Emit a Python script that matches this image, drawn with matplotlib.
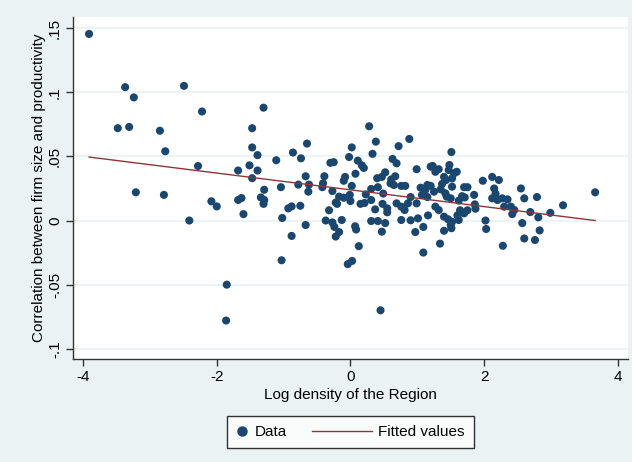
import matplotlib
matplotlib.use("Agg")
import matplotlib.pyplot as plt
from matplotlib.lines import Line2D
from matplotlib.legend_handler import HandlerLine2D

plt.rcParams['font.family'] = ['Liberation Sans', 'DejaVu Sans']

# log density (x) and size-productivity correlation (y)
log_density = [
    -3.91, -3.37, -3.24, -3.48, -3.31, -3.21, -2.85, -2.77, -2.79, -2.49,
    -2.22, -2.28, -2.41, -2.08, -2.00, -1.85, -1.86, -1.68, -1.51, -1.47,
    -1.47, -1.39, -1.47, -1.39, -1.68, -1.63, -1.60, -1.34, -1.30, -1.29,
    -1.29, -1.30, -1.11, -1.04, -1.03, -1.02, -0.93, -0.88, -0.75, -0.88,
    -0.67, -0.86, -0.74, -0.65, -0.67, -0.78, -0.62, -0.63, -0.39, -0.41,
    -0.42, -0.30, -0.25, -0.27, -0.22, -0.32, -0.37, -0.27, -0.24, -0.22,
    -0.17, -0.13, 0.07, 0.085, 0.125, -0.04, 0.025, 0.45,
    0.28, 0.38, 0.88, 0.72, 0.02, 0.33, -0.02, 0.11, 0.17, 0.20,
    0.63, 0.69, 0.99, -0.08, -0.10, 0.075, 0.02, 0.40, 0.47, 0.52,
    0.61, 0.67, 0.60, 0.65, 0.76, 0.82, 1.05, 1.15, 0.31, 0.41,
    0.49, 0.23, -0.17, -0.10, -0.01, -0.20, 0.00, 0.15, 0.21, 0.31,
    0.48, 0.37, 0.55, 0.55, 0.69, 0.76, 0.81, 0.86, 0.90, 0.99,
    1.07, 1.15, 0.31, 0.41, 0.52, 0.47, 0.76, 0.90, 1.01, 1.09,
    0.97, 1.09, 1.16, 1.20,
    1.51, 1.23, 1.32, 1.27, 1.48, 1.47, 1.55, 1.59, 1.40, 1.43,
    1.52, 1.20, 1.12, 1.25, 1.35, 1.37, 1.52, 1.70, 1.75, 1.42,
    1.44, 1.50, 1.62, 1.67, 1.71, 1.85, 1.86, 1.87, 1.27, 1.32,
    1.40, 1.46, 1.52, 1.60, 1.64, 1.70, 1.75, 1.50, 1.51, 1.62,
    1.40, 1.34, 1.98, 2.12, 2.22, 2.15, 2.17, 2.12, 2.20, 2.27,
    2.35, 2.30, 2.40, 2.45, 2.42, 2.55, 2.60, 2.57, 2.60, 2.02,
    2.03, 2.28, 2.79, 3.18, 3.66, 2.69, 2.81, 2.99, 2.83, 2.76,
]
correlation = [
    0.1455, 0.104, 0.096, 0.072, 0.073, 0.022, 0.070, 0.054, 0.020, 0.105,
    0.085, 0.0425, 0.000, 0.015, 0.011, -0.050, -0.078, 0.039, 0.043, 0.072,
    0.057, 0.051, 0.033, 0.039, 0.016, 0.0175, 0.005, 0.018, 0.088, 0.024,
    0.016, 0.013, 0.047, 0.026, -0.031, 0.002, 0.0095, 0.011, 0.0115, -0.012,
    -0.0035, 0.053, 0.0485, 0.060, 0.0345, 0.028, 0.028, 0.0225, 0.0345, 0.029,
    0.026, 0.045, 0.0455, 0.023, 0.014, 0.008, 0.000, -0.0015, -0.005, -0.0125,
    -0.009, 0.0004, -0.0045, -0.007, -0.020, -0.034, -0.0315, -0.070,
    0.0735, 0.0615, 0.0636, 0.058, 0.057, 0.052, 0.0495, 0.0467, 0.043, 0.041,
    0.048, 0.0446, 0.040, 0.034, 0.031, 0.0365, 0.027, 0.033, 0.034, 0.0376,
    0.032, 0.0345, 0.029, 0.0277, 0.027, 0.027, 0.0256, 0.0277, 0.0246, 0.026,
    0.021, 0.0204, 0.0186, 0.0178, 0.020, 0.013, 0.0152, 0.013, 0.0137, 0.016,
    0.013, 0.0087, 0.0095, 0.0064, 0.0134, 0.0108, 0.0082, 0.0134, 0.0183, 0.0134,
    0.0199, 0.0183, -0.0004, -0.0004, -0.002, -0.0087, 0.0004, 0.0002, 0.0017, -0.005,
    -0.009, -0.025, 0.004, 0.042,
    0.0534, 0.0425, 0.040, 0.038, 0.0433, 0.0394, 0.0368, 0.038, 0.034, 0.0316,
    0.0329, 0.027, 0.0238, 0.0225, 0.0243, 0.0285, 0.0264, 0.026, 0.026, 0.0212,
    0.0186, 0.0173, 0.0155, 0.019, 0.018, 0.020, 0.0126, 0.0092, 0.0108, 0.0082,
    0.003, 0.001, -0.001, 0.004, 0.008, 0.0056, 0.008, -0.0035, -0.006, 0.0004,
    -0.008, -0.018, 0.031, 0.034, 0.0316, 0.025, 0.021, 0.0173, 0.016, 0.0173,
    0.0165, 0.0108, 0.0108, 0.0082, 0.005, 0.025, 0.0173, -0.002, -0.014, 0.000,
    -0.0066, -0.0197, 0.0183, 0.0119, 0.022, 0.0066, 0.0025, 0.006, -0.0077, -0.0152,
]

# fitted line end points
fit_x = [-3.91, 3.66]
fit_y = [0.0495, 0.0]

yticks = [-0.1, -0.05, 0, 0.05, 0.1, 0.15]
ytick_labels = ["-.1", "-.05", "0", ".05", ".1", ".15"]
xticks = [-4, -2, 0, 2, 4]

bg = "#eaf2f3"
navy = "#1a476f"
maroon = "#90353b"


class LongLine(HandlerLine2D):
    # legend line that reaches back into the column gap, like Stata's key
    def create_artists(self, legend, orig_handle, xdescent, ydescent,
                       width, height, fontsize, trans):
        ext = 3.1 * fontsize
        y = height / 2 - ydescent
        line = Line2D([-xdescent - ext, width - xdescent], [y, y],
                      color=orig_handle.get_color(), lw=orig_handle.get_linewidth())
        line.set_transform(trans)
        return [line]


fig = plt.figure(figsize=(6.32, 4.62), dpi=100, facecolor=bg)
ax = fig.add_axes([0.1155, 0.2229, 0.878, 0.7403])
ax.set_facecolor("white")

for yv in yticks:
    ax.axhline(yv, color=bg, lw=1.2, zorder=0)

ax.scatter(log_density, correlation, s=34, color=navy, edgecolors="none", zorder=3)
ax.plot(fit_x, fit_y, color=maroon, lw=1.0, zorder=4)

ax.set_xlim(-4.15, 4.15)
ax.set_ylim(-0.108, 0.1587)
ax.set_xticks(xticks)
ax.set_xticklabels([str(v) for v in xticks])
ax.set_yticks(yticks)
ax.set_yticklabels(ytick_labels, rotation=90, va="center")

for side in ["top", "right"]:
    ax.spines[side].set_visible(False)
for side in ["left", "bottom"]:
    ax.spines[side].set_color("#333333")
    ax.spines[side].set_linewidth(1.0)
ax.tick_params(axis="both", direction="out", length=5, width=1.0,
               color="#333333", labelsize=11, labelcolor="black", pad=3)

ax.set_xlabel("Log density of the Region", fontsize=11, labelpad=3)
ax.set_ylabel("Correlation between firm size and productivity", fontsize=11, labelpad=1)

data_handle = Line2D([], [], marker="o", ls="none", color=navy, markersize=6.5)
fit_handle = Line2D([], [], color=maroon, lw=1.0)
leg = fig.legend([data_handle, fit_handle], ["Data", "Fitted values"], loc="center",
                 bbox_to_anchor=(0.5546, 0.0649), ncol=2, frameon=True,
                 fancybox=False, fontsize=11, handlelength=0.8,
                 columnspacing=4.7, handletextpad=0.45, borderpad=0.6,
                 handler_map={fit_handle: LongLine()})
leg.get_frame().set_edgecolor("black")
leg.get_frame().set_linewidth(1.0)
leg.get_frame().set_facecolor("white")

fig.savefig("out.png", dpi=100, facecolor=bg)
